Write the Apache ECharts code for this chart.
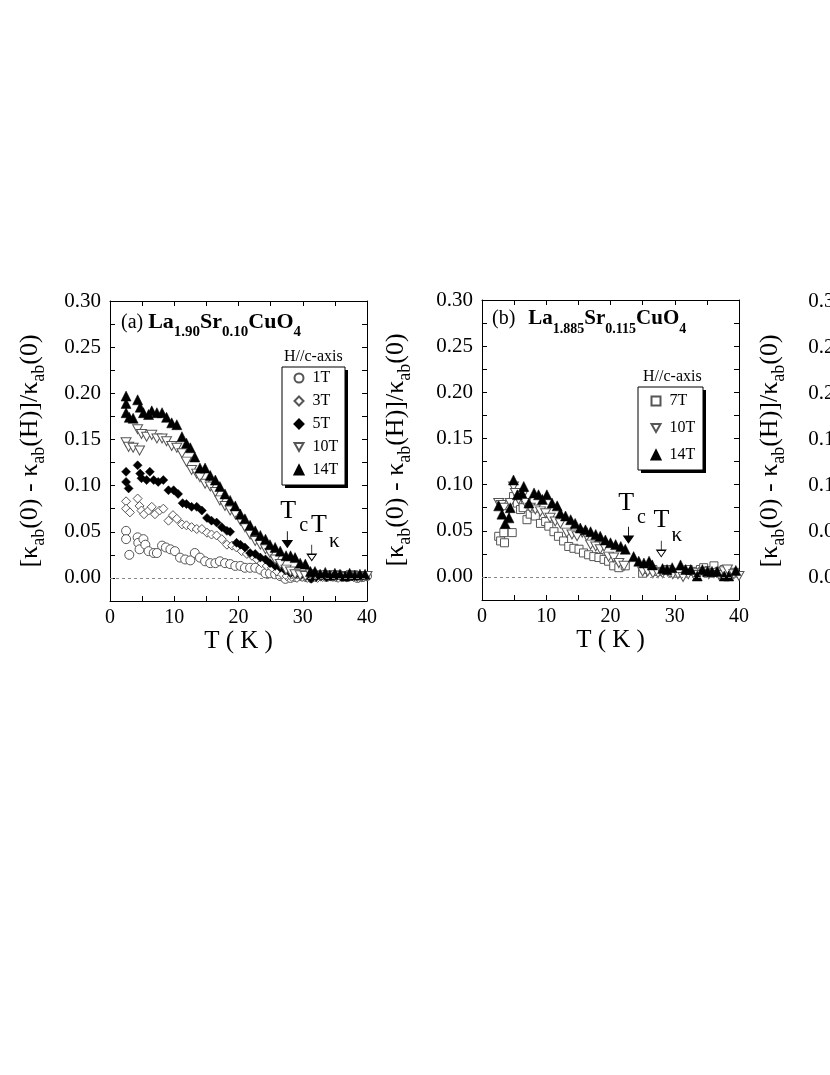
<!DOCTYPE html>
<html>
<head>
<meta charset="utf-8">
<title>kappa_ab field dependence</title>
<script src="https://cdn.jsdelivr.net/npm/echarts@6/dist/echarts.min.js"></script>
<style>
  html, body { margin: 0; padding: 0; background: #fff; }
  #chart { width: 830px; height: 1075px; }
</style>
</head>
<body>
<div id="chart"></div>
<script>
// ---- data: [T (K), (k(0)-k(H))/k(0)] ----

// (a) La1.90Sr0.10CuO4
const a1T = [[2.5,0.051],[2.5,0.042],[3.0,0.025],[4.3,0.044],[4.4,0.038],[4.6,0.031],[5.2,0.042],[5.5,0.036],[6.0,0.029],[6.8,0.027],[7.3,0.027],[8.1,0.035],[8.7,0.033],[9.4,0.031],[10.1,0.029],[10.9,0.022],[11.7,0.020],[12.5,0.019],[13.2,0.027],[14.0,0.022],[14.8,0.018],[15.6,0.016],[16.4,0.016],[17.1,0.018],[17.9,0.016],[18.7,0.015],[19.5,0.013],[20.3,0.013],[21.0,0.011],[21.8,0.011],[22.6,0.011],[23.4,0.009],[24.2,0.005],[24.9,0.005],[25.7,0.004],[26.5,0.002],[27.3,-0.001],[28.1,0.000],[28.9,0.001],[29.7,0.002],[30.5,0.001],[31.3,0.000],[32.1,0.001],[32.9,0.002],[33.7,0.001],[34.5,0.002],[35.3,0.001],[36.1,0.002],[36.9,0.001],[37.7,0.002],[38.5,0.000],[39.3,0.001],[40.0,0.002]];
const a3T = [[2.5,0.083],[2.5,0.075],[3.1,0.071],[4.3,0.086],[4.6,0.078],[4.9,0.073],[5.3,0.069],[6.0,0.073],[6.5,0.077],[7.0,0.069],[7.7,0.073],[8.3,0.075],[9.1,0.062],[9.8,0.068],[10.4,0.064],[11.2,0.058],[11.9,0.057],[12.7,0.055],[13.5,0.053],[14.3,0.053],[15.1,0.049],[15.8,0.047],[16.6,0.046],[17.4,0.042],[18.2,0.036],[19.0,0.035],[19.7,0.033],[20.5,0.029],[21.3,0.026],[22.1,0.024],[22.9,0.020],[23.6,0.016],[24.4,0.013],[25.2,0.011],[26.0,0.007],[26.8,0.004],[27.5,0.002],[28.3,0.001],[29.1,0.000],[29.9,0.001],[30.7,0.000],[31.5,0.001],[32.3,0.000],[33.1,0.001],[33.9,0.002],[34.7,0.001],[35.5,0.000],[36.3,0.001],[37.1,0.002],[37.9,0.001],[38.7,0.000],[39.5,0.001]];
const a5T = [[2.5,0.115],[2.5,0.104],[2.9,0.097],[4.3,0.122],[4.7,0.113],[4.9,0.108],[5.7,0.106],[6.2,0.115],[6.8,0.106],[7.5,0.104],[8.3,0.106],[9.1,0.095],[9.9,0.095],[10.6,0.091],[11.3,0.081],[11.9,0.080],[12.7,0.077],[13.5,0.077],[14.3,0.073],[15.1,0.065],[15.8,0.062],[16.6,0.060],[17.4,0.055],[18.2,0.051],[18.7,0.050],[19.7,0.038],[20.3,0.036],[21.0,0.033],[21.8,0.027],[22.6,0.026],[23.4,0.022],[24.2,0.020],[24.9,0.016],[25.7,0.013],[26.5,0.011],[27.3,0.008],[28.1,0.005],[28.9,0.004],[29.7,0.003],[30.5,0.002],[31.3,-0.001],[32.1,0.001],[32.9,0.002],[33.7,0.001],[34.5,0.003],[35.3,0.002],[36.1,0.001],[36.9,0.003],[37.7,0.002],[38.5,0.003],[39.3,0.002]];
const a10T = [[2.5,0.147],[2.9,0.142],[3.6,0.141],[4.3,0.161],[4.6,0.138],[4.9,0.156],[5.7,0.153],[6.5,0.155],[7.3,0.151],[8.1,0.151],[8.8,0.148],[9.6,0.143],[10.4,0.141],[11.2,0.135],[11.9,0.126],[12.7,0.117],[13.5,0.113],[14.0,0.109],[14.8,0.102],[15.6,0.099],[16.4,0.093],[17.1,0.084],[17.9,0.078],[18.7,0.073],[19.5,0.069],[20.3,0.062],[21.0,0.055],[21.8,0.047],[22.6,0.040],[23.4,0.036],[24.2,0.031],[24.9,0.027],[25.7,0.020],[26.5,0.015],[27.4,0.009],[28.1,0.007],[28.8,0.004],[29.6,0.003],[30.4,0.002],[31.2,0.004],[32.0,0.003],[32.8,0.002],[33.6,0.003],[34.4,0.002],[35.2,0.003],[36.0,0.002],[36.8,0.001],[37.6,0.003],[38.4,0.002],[39.2,0.001],[40.0,0.002]];
const a14T = [[2.5,0.197],[2.5,0.189],[2.5,0.179],[3.0,0.174],[3.6,0.173],[4.3,0.193],[4.7,0.185],[5.2,0.179],[6.0,0.177],[6.5,0.181],[7.3,0.179],[8.1,0.179],[8.8,0.174],[9.6,0.168],[10.4,0.166],[11.2,0.153],[11.9,0.146],[12.5,0.141],[13.2,0.131],[14.0,0.119],[14.8,0.119],[15.6,0.111],[16.4,0.106],[17.1,0.099],[17.9,0.091],[18.7,0.084],[19.5,0.078],[20.3,0.069],[21.0,0.064],[21.8,0.057],[22.6,0.051],[23.4,0.046],[24.2,0.042],[24.9,0.036],[25.7,0.033],[26.5,0.029],[27.4,0.024],[28.1,0.024],[28.8,0.022],[29.6,0.016],[30.4,0.015],[31.2,0.007],[31.9,0.007],[32.7,0.004],[33.5,0.006],[34.2,0.003],[35.0,0.005],[35.8,0.004],[36.6,0.002],[37.3,0.005],[38.1,0.003],[38.9,0.004],[39.7,0.004]];

// (b) La1.885Sr0.115CuO4
const b7T = [[2.6,0.044],[2.9,0.039],[3.4,0.048],[3.5,0.037],[4.7,0.048],[4.9,0.087],[5.5,0.080],[6.0,0.073],[6.4,0.075],[7.0,0.062],[7.5,0.068],[8.3,0.066],[9.1,0.058],[9.9,0.060],[10.4,0.055],[11.2,0.049],[11.9,0.044],[12.7,0.039],[13.5,0.033],[14.3,0.031],[15.1,0.030],[15.8,0.026],[16.6,0.024],[17.4,0.022],[18.2,0.021],[19.0,0.019],[19.7,0.017],[20.5,0.012],[21.3,0.010],[22.3,0.012],[25.0,0.004],[25.8,0.008],[26.6,0.008],[27.4,0.006],[28.9,0.008],[29.7,0.005],[30.5,0.004],[31.3,0.006],[32.1,0.008],[32.9,0.006],[34.0,0.008],[34.5,0.010],[35.3,0.007],[36.1,0.012],[36.9,0.006],[37.7,0.008],[38.5,0.004],[39.3,0.005]];
const b10T = [[2.6,0.080],[3.0,0.078],[3.4,0.075],[3.8,0.068],[4.4,0.080],[4.9,0.098],[5.2,0.091],[5.7,0.084],[6.3,0.088],[6.8,0.080],[7.5,0.075],[8.3,0.073],[9.1,0.071],[9.9,0.069],[10.6,0.064],[11.4,0.060],[12.2,0.058],[13.2,0.048],[14.0,0.046],[14.8,0.044],[15.6,0.048],[16.3,0.044],[16.9,0.035],[17.7,0.033],[18.4,0.030],[19.0,0.033],[19.7,0.022],[20.5,0.021],[21.3,0.015],[22.1,0.012],[25.0,0.006],[25.8,0.006],[26.6,0.004],[27.4,0.004],[28.1,0.004],[28.9,0.006],[29.7,0.003],[30.5,0.003],[31.3,0.000],[32.1,0.003],[32.9,0.004],[33.7,0.002],[34.5,0.005],[35.3,0.003],[36.1,0.004],[36.9,0.002],[37.7,0.006],[38.2,0.008],[39.2,0.003],[40.0,0.001]];
const b14T = [[2.6,0.077],[3.1,0.068],[3.6,0.058],[4.2,0.064],[4.4,0.075],[4.9,0.105],[5.5,0.089],[6.2,0.091],[6.5,0.098],[7.3,0.080],[8.1,0.091],[8.8,0.089],[9.4,0.084],[10.1,0.089],[10.9,0.080],[11.7,0.077],[12.2,0.069],[13.0,0.066],[13.8,0.062],[14.5,0.058],[15.3,0.053],[16.1,0.051],[16.9,0.049],[17.7,0.046],[18.4,0.044],[19.2,0.040],[20.0,0.037],[20.8,0.035],[21.6,0.033],[22.3,0.030],[23.6,0.022],[24.4,0.017],[25.2,0.015],[26.0,0.017],[26.5,0.013],[28.1,0.009],[28.8,0.008],[29.6,0.010],[30.9,0.013],[31.7,0.008],[32.5,0.008],[33.5,0.001],[34.3,0.008],[35.1,0.006],[35.8,0.006],[36.6,0.006],[37.7,0.001],[38.4,0.001],[39.5,0.007]];

// Tc / T_kappa markers: [T, y] of arrow centre and of the label's left edge
const aTcArrow = [27.6, 0.042], aTkArrow = [31.4, 0.0274];
const aTcText = [26.5, 0.0725], aTkText = [31.3, 0.057];
const bTcArrow = [22.8, 0.0457], bTkArrow = [27.9, 0.0306];
const bTcText = [21.2, 0.0804], bTkText = [26.7, 0.062];

const xTicks = { min: 0, max: 40, step: 5, labelEvery: 10 };
const yTicks = { min: -0.025, max: 0.30, step: 0.025, labelEvery: 0.05 };

// ---- chart ----
const FONT = '"Liberation Serif", "Times New Roman", serif';
const chart = echarts.init(document.getElementById('chart'), null, { renderer: 'canvas' });

const grids = [
  { left: 110, top: 301, width: 257, height: 300, outerBoundsMode: 'none' },
  { left: 482, top: 300, width: 257, height: 300, outerBoundsMode: 'none' },
  { left: 854, top: 301, width: 257, height: 300, outerBoundsMode: 'none' }
];
const yNameGap = [62, 68, 66];

const lineStyle = { color: '#000', width: 1 };
const tickStyle = { inside: true, length: 5, lineStyle: { color: '#000', width: 1 } };

const yName = '{t|[κ}{s|ab}{t|(0) - κ}{s|ab}{t|(H)]/κ}{s|ab}{t|(0)}';
const yNameRich = {
  t: { fontFamily: FONT, fontSize: 26, color: '#000' },
  s: { fontFamily: FONT, fontSize: 18, color: '#000', padding: [18, 0, 0, 0] }
};

const xAxis = [], yAxis = [];
grids.forEach((g, i) => {
  const xb = {
    gridIndex: i, type: 'value', min: xTicks.min, max: xTicks.max, interval: xTicks.step,
    axisLine: { show: true, onZero: false, lineStyle }, axisTick: tickStyle, splitLine: { show: false }
  };
  xAxis.push(Object.assign({}, xb, {
    position: 'bottom',
    name: 'T ( K )', nameLocation: 'middle', nameGap: 28,
    nameTextStyle: { fontFamily: FONT, fontSize: 25, color: '#000' },
    axisLabel: {
      margin: 7, fontFamily: FONT, fontSize: 20, color: '#000',
      formatter: v => (v % xTicks.labelEvery === 0 ? String(v) : '')
    }
  }));
  xAxis.push(Object.assign({}, xb, { position: 'top', axisLabel: { show: false } }));

  const yb = {
    gridIndex: i, type: 'value', min: yTicks.min, max: yTicks.max, interval: yTicks.step,
    axisLine: { show: true, onZero: false, lineStyle }, axisTick: tickStyle, splitLine: { show: false }
  };
  yAxis.push(Object.assign({}, yb, {
    position: 'left',
    name: yName, nameLocation: 'middle', nameRotate: 90, nameGap: yNameGap[i],
    nameTextStyle: { rich: yNameRich },
    axisLabel: {
      margin: 9, fontFamily: FONT, fontSize: 21, color: '#000',
      formatter: v => {
        const m = Math.round(v * 1000);
        return m >= 0 && m % 50 === 0 ? v.toFixed(2) : '';
      }
    }
  }));
  yAxis.push(Object.assign({}, yb, { position: 'right', axisLabel: { show: false } }));
});

const DOWN_TRI = 'path://M0,0 L10,0 L5,9 Z';
const ARROW = 'path://M5,0 L5,12 M1,12 L9,12 L5,20 Z';
const openStyle = { color: '#fff', borderColor: '#555', borderWidth: 1, opacity: 1 };
const fillStyle = { color: '#000', borderColor: '#000', borderWidth: 0.5, opacity: 1 };

function scatter(name, data, panel, symbol, size, filled, extra) {
  return Object.assign({
    type: 'scatter', name, data,
    xAxisIndex: panel * 2, yAxisIndex: panel * 2,
    symbol, symbolSize: size,
    itemStyle: filled ? fillStyle : openStyle,
    emphasis: { disabled: true }, silent: true, animation: false
  }, extra || {});
}

const zeroLine = {
  silent: true, symbol: ['none', 'none'], label: { show: false },
  lineStyle: { color: '#888', width: 1, type: [3, 3] },
  data: [{ yAxis: 0 }]
};

const annRich = {
  t: { fontFamily: FONT, fontSize: 26, color: '#000' },
  c: { fontFamily: FONT, fontSize: 20, color: '#000', padding: [30, 0, 0, 3] },
  k: { fontFamily: FONT, fontSize: 21, color: '#000', padding: [32, 0, 0, 2] }
};
function textMark(coord, fmt) {
  return {
    coord, symbol: 'circle', symbolSize: 1, itemStyle: { color: 'rgba(0,0,0,0)' },
    label: { show: true, position: 'inside', align: 'left', verticalAlign: 'middle', formatter: fmt, rich: annRich }
  };
}
function arrowMark(coord, filled) {
  return {
    coord, symbol: ARROW, symbolSize: [9, 16],
    itemStyle: filled ? { color: '#000', borderColor: '#000', borderWidth: 1.2 }
                      : { color: '#fff', borderColor: '#000', borderWidth: 1 },
    label: { show: false }
  };
}
function markers(tcA, tkA, tcT, tkT) {
  return {
    silent: true, animation: false,
    data: [arrowMark(tcA, true), arrowMark(tkA, false),
           textMark(tcT, '{t|T}{c|c}'), textMark(tkT, '{t|T}{k|κ}')]
  };
}

const series = [
  scatter('1T', a1T, 0, 'circle', 9, false, { markLine: zeroLine }),
  scatter('3T', a3T, 0, 'diamond', 9, false),
  scatter('5T', a5T, 0, 'diamond', 9, true),
  scatter('10T', a10T, 0, DOWN_TRI, [10, 9], false),
  scatter('14T', a14T, 0, 'triangle', 10, true, { markPoint: markers(aTcArrow, aTkArrow, aTcText, aTkText) }),
  scatter('7T', b7T, 1, 'rect', 8, false, { markLine: zeroLine }),
  scatter('10T', b10T, 1, DOWN_TRI, [10, 9], false),
  scatter('14T', b14T, 1, 'triangle', 10, true, { markPoint: markers(bTcArrow, bTkArrow, bTcText, bTkText) })
];

// legends: items only; the boxed frame with its drop shadow is drawn as graphics
const legendBase = {
  orient: 'vertical', itemWidth: 9, itemHeight: 9, padding: 0, z: 6,
  selectedMode: false,
  textStyle: { fontFamily: FONT, fontSize: 16, color: '#000', padding: [0, 0, 0, 4] }
};
const legendBoxes = [
  { x: 282, y: 367, width: 63, height: 118 },
  { x: 638, y: 387, width: 65, height: 83 }
];
const boxGraphics = [];
legendBoxes.forEach(b => {
  boxGraphics.push({ type: 'rect', z: 4, silent: true,
    shape: { x: b.x + 3, y: b.y + 3, width: b.width, height: b.height }, style: { fill: '#000' } });
  boxGraphics.push({ type: 'rect', z: 5, silent: true,
    shape: { x: b.x, y: b.y, width: b.width, height: b.height }, style: { fill: '#fff', stroke: '#000', lineWidth: 1 } });
});

const option = {
  animation: false,
  backgroundColor: '#fff',
  grid: grids,
  xAxis, yAxis, series,
  title: [
    {
      left: 121, top: 305, padding: 0,
      text: '{p|(a)} {b|La}{s|1.90}{b|Sr}{s|0.10}{b|CuO}{s|4}',
      textStyle: { rich: {
        p: { fontFamily: FONT, fontSize: 20, fontWeight: 'normal', color: '#000' },
        b: { fontFamily: FONT, fontSize: 22, fontWeight: 'bold', color: '#000' },
        s: { fontFamily: FONT, fontSize: 15, fontWeight: 'bold', color: '#000', padding: [20, 0, 0, 0] }
      } }
    },
    {
      left: 492, top: 302, padding: 0,
      text: '{p|(b)}{g|}{b|La}{s|1.885}{b|Sr}{s|0.115}{b|CuO}{s|4}',
      textStyle: { rich: {
        p: { fontFamily: FONT, fontSize: 20, fontWeight: 'normal', color: '#000' },
        g: { width: 13 },
        b: { fontFamily: FONT, fontSize: 21, fontWeight: 'bold', color: '#000' },
        s: { fontFamily: FONT, fontSize: 14, fontWeight: 'bold', color: '#000', padding: [20, 0, 0, 0] }
      } }
    }
  ],
  legend: [
    Object.assign({}, legendBase, {
      data: ['1T', '3T', '5T', '10T', '14T'],
      left: 293.5, top: 370, itemGap: 7
    }),
    Object.assign({}, legendBase, {
      data: ['7T', '10T', '14T'],
      left: 650.5, top: 393, itemGap: 11
    })
  ],
  graphic: boxGraphics.concat([
    { type: 'text', left: 284, top: 349, silent: true,
      style: { text: 'H//c-axis', font: '16px ' + FONT, fill: '#000' } },
    { type: 'text', left: 643, top: 369, silent: true,
      style: { text: 'H//c-axis', font: '16px ' + FONT, fill: '#000' } }
  ])
};

chart.setOption(option);
</script>
</body>
</html>
